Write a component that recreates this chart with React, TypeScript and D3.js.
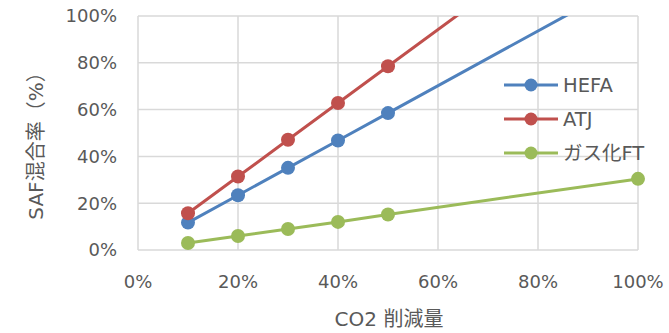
import React from "react";
import * as d3 from "d3";

const xValues = [0.1, 0.2, 0.3, 0.4, 0.5, 1.0];
const hefa = [0.117, 0.234, 0.351, 0.468, 0.585, 1.17];
const atj = [0.157, 0.314, 0.471, 0.628, 0.785, 1.57];
const gasFT = [0.03, 0.06, 0.09, 0.12, 0.152, 0.304];
const seriesNames = ["HEFA", "ATJ", "ガス化FT"];
const seriesColors = ["#4f81bd", "#c0504d", "#9bbb59"];
const xTicks = [0, 0.2, 0.4, 0.6, 0.8, 1.0];
const yTicks = [0, 0.2, 0.4, 0.6, 0.8, 1.0];
const xTitle = "CO2 削減量";
const yTitle = "SAF混合率（%）";

const W = 669;
const H = 333;
const left = 138, right = 638, top = 16, bottom = 250;
const font = "'DejaVu Sans', 'Noto Sans CJK JP', sans-serif";
const textColor = "#595959";
const gridColor = "#d9d9d9";

export default function App() {
  const x = d3.scaleLinear().domain([0, 1]).range([left, right]);
  const y = d3.scaleLinear().domain([0, 1]).range([bottom, top]);
  const allSeries = [hefa, atj, gasFT];
  const line = d3
    .line<[number, number]>()
    .x((d) => x(d[0]))
    .y((d) => y(d[1]));
  const fmt = d3.format(".0%");
  return (
    <svg
      width={W}
      height={H}
      style={{ position: "absolute", left: 0, top: 0, background: "#fff" }}
    >
      <defs>
        <clipPath id="plotClip">
          <rect x={left} y={top} width={right - left} height={bottom - top} />
        </clipPath>
      </defs>
      {xTicks.map((t) => (
        <line key={"gx" + t} x1={x(t)} x2={x(t)} y1={top} y2={bottom} stroke={gridColor} strokeWidth={1.5} />
      ))}
      {yTicks.map((t) => (
        <line key={"gy" + t} x1={left} x2={right} y1={y(t)} y2={y(t)} stroke={gridColor} strokeWidth={1.5} />
      ))}
      {yTicks.map((t) => (
        <text key={"ty" + t} x={117} y={y(t)} dy="0.36em" textAnchor="end" fontFamily={font} fontSize={18} fill={textColor}>
          {fmt(t)}
        </text>
      ))}
      {xTicks.map((t) => (
        <text key={"tx" + t} x={x(t)} y={288} textAnchor="middle" fontFamily={font} fontSize={18} fill={textColor}>
          {fmt(t)}
        </text>
      ))}
      <text x={389} y={326} textAnchor="middle" fontFamily={font} fontSize={20} fill={textColor}>
        {xTitle}
      </text>
      <text
        transform={`translate(43,141) rotate(-90)`}
        textAnchor="middle"
        fontFamily={font}
        fontSize={20}
        fill={textColor}
      >
        {yTitle}
      </text>
      {allSeries.map((s, i) => {
        const pts = xValues.map((xv, j) => [xv, s[j]] as [number, number]);
        return (
          <g key={"s" + i}>
            <path d={line(pts) || ""} fill="none" stroke={seriesColors[i]} strokeWidth={3} clipPath="url(#plotClip)" />
            {pts
              .filter((p) => p[1] <= 1)
              .map((p, j) => (
                <circle key={j} cx={x(p[0])} cy={y(p[1])} r={7} fill={seriesColors[i]} />
              ))}
          </g>
        );
      })}
      {seriesNames.map((n, i) => {
        const ly = [85, 119, 153][i];
        return (
          <g key={"l" + n}>
            <line x1={504} x2={558} y1={ly} y2={ly} stroke={seriesColors[i]} strokeWidth={3} />
            <circle cx={531} cy={ly} r={6.5} fill={seriesColors[i]} />
            <text x={563} y={ly} dy="0.36em" fontFamily={font} fontSize={19.5} fill={textColor}>
              {n}
            </text>
          </g>
        );
      })}
    </svg>
  );
}
